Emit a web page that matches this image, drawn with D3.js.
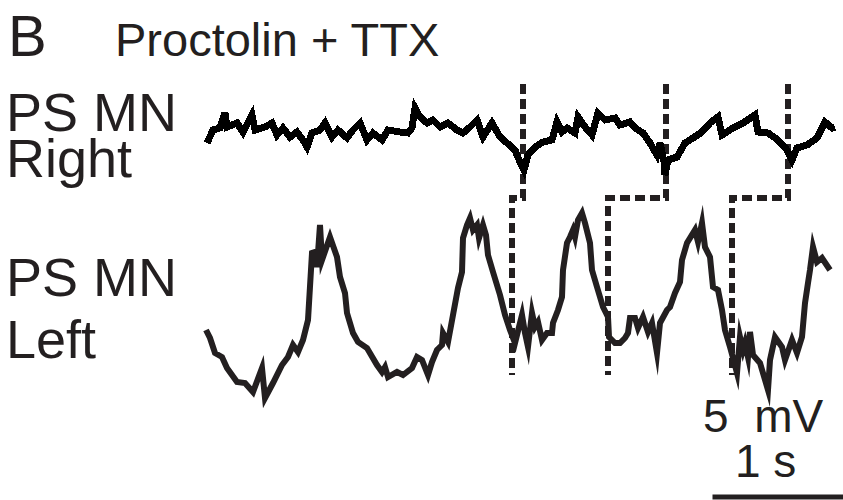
<!DOCTYPE html>
<html>
<head>
<meta charset="utf-8">
<script src="https://cdn.jsdelivr.net/npm/d3@7"></script>
<style>
  html, body { margin: 0; padding: 0; background: #fff; }
  svg { display: block; }
  text { font-family: "Liberation Sans", Arial, sans-serif; fill: #231f20; }
</style>
</head>
<body>
<script>
// ---- DATA (time in s, membrane potential in mV) ----
const rightTime = [0.056,0.104,0.160,0.200,0.216,0.296,0.344,0.416,0.440,0.520,0.576,0.616,0.664,0.720,0.776,0.824,0.856,0.896,0.960,1.000,1.056,1.104,1.176,1.224,1.280,1.336,1.384,1.456,1.504,1.600,1.664,1.696,1.720,1.760,1.816,1.864,1.920,1.984,2.056,2.104,2.160,2.216,2.264,2.336,2.400,2.456,2.520,2.560,2.592,2.624,2.680,2.744,2.816,2.856,2.896,2.936,3.000,3.024,3.080,3.136,3.184,3.240,3.320,3.360,3.440,3.480,3.544,3.600,3.656,3.680,3.712,3.720,3.744,3.816,3.880,3.944,4.016,4.080,4.144,4.176,4.264,4.344,4.440,4.464,4.544,4.624,4.696,4.736,4.776,4.856,4.936,5.000,5.056,5.080];
const rightVm = [-54.3,-53.0,-52.8,-51.3,-52.7,-52.3,-53.2,-51.5,-53.0,-52.7,-52.3,-53.5,-52.8,-53.7,-53.2,-54.0,-54.7,-53.3,-53.0,-52.3,-53.7,-53.0,-53.8,-53.0,-52.3,-54.0,-53.3,-54.0,-53.0,-53.2,-53.3,-52.8,-50.8,-51.7,-52.3,-52.0,-52.7,-52.3,-53.0,-53.3,-52.7,-52.0,-53.7,-52.3,-53.7,-54.3,-55.0,-56.2,-57.0,-55.5,-54.7,-54.2,-54.0,-52.2,-53.2,-52.8,-53.3,-51.7,-52.7,-53.5,-51.3,-52.0,-51.8,-52.5,-52.2,-52.8,-53.3,-54.3,-55.5,-54.3,-56.2,-57.5,-56.0,-55.7,-54.3,-53.8,-53.2,-52.3,-51.7,-53.5,-52.8,-52.3,-51.5,-53.2,-53.3,-54.0,-55.0,-56.0,-54.8,-54.5,-53.8,-52.2,-52.8,-52.7];

const leftTime = [0.048,0.080,0.120,0.176,0.216,0.296,0.360,0.424,0.496,0.520,0.584,0.656,0.704,0.744,0.784,0.824,0.864,0.896,0.920,0.936,0.960,0.976,1.040,1.096,1.120,1.160,1.176,1.224,1.264,1.336,1.416,1.456,1.480,1.504,1.576,1.624,1.696,1.736,1.776,1.824,1.856,1.896,1.936,1.944,1.984,2.024,2.064,2.096,2.104,2.136,2.160,2.184,2.216,2.232,2.264,2.288,2.304,2.344,2.400,2.440,2.480,2.520,2.576,2.600,2.624,2.656,2.680,2.704,2.736,2.776,2.816,2.824,2.864,2.896,2.904,2.936,2.960,2.984,3.000,3.024,3.056,3.080,3.120,3.136,3.176,3.224,3.264,3.272,3.320,3.360,3.400,3.424,3.440,3.480,3.504,3.544,3.584,3.616,3.656,3.680,3.736,3.760,3.800,3.840,3.856,3.896,3.960,3.984,4.016,4.040,4.080,4.104,4.144,4.176,4.200,4.240,4.264,4.296,4.320,4.344,4.360,4.384,4.400,4.424,4.480,4.544,4.560,4.600,4.656,4.680,4.736,4.776,4.816,4.840,4.864,4.880,4.904,4.936,4.976,5.040];
const leftVm = [-63.0,-63.8,-65.3,-65.7,-66.8,-68.2,-68.3,-69.2,-66.8,-69.8,-68.3,-66.5,-65.7,-64.5,-65.2,-64.0,-62.0,-55.3,-55.2,-56.7,-52.5,-56.0,-53.7,-55.7,-57.7,-59.3,-61.3,-63.3,-64.2,-64.8,-66.5,-67.2,-66.7,-67.7,-67.2,-67.5,-66.8,-65.7,-66.0,-67.5,-66.2,-65.0,-64.5,-63.3,-64.2,-61.5,-58.8,-57.2,-53.8,-52.5,-51.8,-53.0,-52.5,-53.8,-52.5,-53.5,-55.5,-57.2,-59.5,-61.5,-63.0,-64.3,-61.5,-63.3,-64.7,-61.3,-62.7,-62.2,-64.0,-63.3,-63.3,-62.3,-61.0,-59.7,-57.0,-54.3,-53.7,-53.0,-53.7,-52.0,-51.3,-52.3,-54.3,-57.0,-58.7,-60.7,-61.7,-63.7,-64.3,-64.3,-63.8,-63.3,-61.8,-61.8,-62.8,-61.7,-63.2,-62.3,-65.3,-62.3,-61.0,-60.7,-59.3,-58.2,-56.0,-54.3,-53.0,-54.2,-52.3,-54.7,-55.7,-58.7,-59.0,-61.0,-63.0,-64.7,-65.8,-67.3,-63.7,-65.0,-64.3,-65.7,-63.2,-65.5,-66.3,-69.0,-66.0,-63.7,-64.7,-66.0,-64.0,-65.3,-63.7,-60.3,-58.3,-57.0,-54.7,-56.2,-55.8,-57.0];

// Dashed markers: trough time on right trace, matching time on left trace
const markerRightTime = [2.584, 3.728, 4.704];
const markerLeftTime  = [2.496, 3.264, 4.256];

// Labels
const panelLetter = "B";
const conditionLabel = "Proctolin + TTX";
const traceLabels = [["PS MN", "Right"], ["PS MN", "Left"]];
const scaleBarVoltage = "5  mV";
const scaleBarTime = "1 s";
const scaleBarStart = 4.1; // s
const scaleBarDuration = 1; // s (bar runs off the right edge, as in the figure)

// ---- LAYOUT ----
const W = 843, H = 500;
const ink = "#231f20";

const svg = d3.select("body").append("svg").attr("width", W).attr("height", H);

const x = d3.scaleLinear().domain([0, 5]).range([200, 825]);
const yRight = d3.scaleLinear().domain([-60, -50]).range([200, 100]);
const yLeft = d3.scaleLinear().domain([-70, -50]).range([400, 200]);

// dashed markers
const dashTopY0 = 84, dashMidY = 198, dashBotY = 375;
const dash = svg.append("g")
  .attr("fill", "none").attr("stroke", ink).attr("stroke-width", 6)
  .attr("stroke-dasharray", "10,5");
markerRightTime.forEach((tr, i) => {
  const tl = markerLeftTime[i];
  const p = d3.path();
  p.moveTo(x(tr), dashTopY0);
  p.lineTo(x(tr), dashMidY);
  p.lineTo(x(tl), dashMidY);
  p.lineTo(x(tl), dashBotY);
  dash.append("path").attr("d", p.toString());
});

// right trace
const rightData = rightTime.map((t, i) => [t, rightVm[i]]);
svg.append("path")
  .datum(rightData)
  .attr("fill", "none").attr("stroke", "#000").attr("stroke-width", 7)
  .attr("stroke-linejoin", "miter").attr("stroke-miterlimit", 4)
  .attr("shape-rendering", "crispEdges")
  .attr("d", d3.line().x(d => x(d[0])).y(d => yRight(d[1])));

// left trace
const leftData = leftTime.map((t, i) => [t, leftVm[i]]);
svg.append("path")
  .datum(leftData)
  .attr("fill", "none").attr("stroke", ink).attr("stroke-width", 6)
  .attr("stroke-linejoin", "miter").attr("stroke-miterlimit", 8)
  .attr("d", d3.line().x(d => x(d[0])).y(d => yLeft(d[1])));

// titles
svg.append("text").attr("x", 8).attr("y", 56).attr("font-size", 58).text(panelLetter);
svg.append("text").attr("x", 115).attr("y", 56).attr("font-size", 47).text(conditionLabel);

// trace labels
const labelBaselines = [[131, 177], [296, 358]];
traceLabels.forEach((lines, i) => {
  lines.forEach((s, j) => {
    svg.append("text").attr("x", 6).attr("y", labelBaselines[i][j])
      .attr("font-size", 54).text(s);
  });
});

// scale bar
svg.append("text").attr("x", 703).attr("y", 432).attr("font-size", 46)
  .style("white-space", "pre").text(scaleBarVoltage);
svg.append("text").attr("x", 735).attr("y", 477).attr("font-size", 46).text(scaleBarTime);
svg.append("line")
  .attr("x1", x(scaleBarStart)).attr("x2", x(scaleBarStart + scaleBarDuration) + 8)
  .attr("y1", 497).attr("y2", 497)
  .attr("stroke", ink).attr("stroke-width", 5);
</script>
</body>
</html>
